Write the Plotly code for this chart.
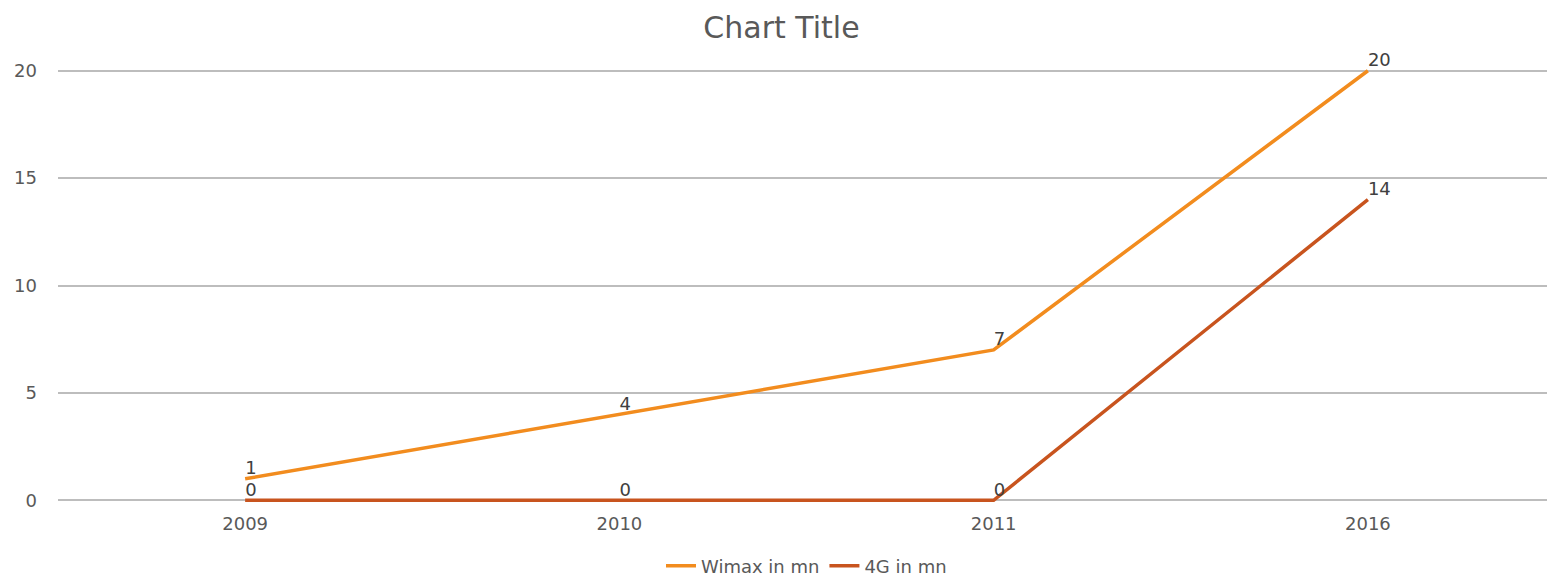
import plotly.graph_objects as go

categories = ["2009", "2010", "2011", "2016"]
wimax = [1, 4, 7, 20]
g4 = [0, 0, 0, 14]
y_ticks = [0, 5, 10, 15, 20]

FONT = "DejaVu Sans, sans-serif"
GRAY = "#595959"

fig = go.Figure()
fig.add_trace(go.Scatter(
    x=categories, y=wimax, name="Wimax in mn", mode="lines+text",
    line=dict(color="#F28C1E", width=3.5),
    text=[str(v) for v in wimax], textposition="top right",
    textfont=dict(family=FONT, size=18, color="#404040"),
    cliponaxis=False,
))
fig.add_trace(go.Scatter(
    x=categories, y=g4, name="4G in mn", mode="lines+text",
    line=dict(color="#C8541E", width=3.5),
    text=[str(v) for v in g4], textposition="top right",
    textfont=dict(family=FONT, size=18, color="#404040"),
    cliponaxis=False,
))

# page body has an 8px margin, so the figure is sized/offset to compensate
fig.update_layout(
    width=1547, height=570,
    margin=dict(l=50, r=0, t=52, b=67, autoexpand=False),
    paper_bgcolor="white", plot_bgcolor="white",
    title=dict(text="Chart Title", x=0.5, xanchor="center", y=0.966, yanchor="middle",
               font=dict(family=FONT, size=30, color=GRAY)),
    font=dict(family=FONT, size=18, color=GRAY),
    showlegend=True,
    legend=dict(orientation="h", x=0.5, xanchor="center", y=-0.122, yanchor="middle",
                font=dict(family=FONT, size=18, color=GRAY)),
    xaxis=dict(type="category", range=[-0.5, 3.5], showgrid=False, zeroline=False,
               showline=False, ticks="", automargin=False,
               tickfont=dict(family=FONT, size=18, color=GRAY)),
    yaxis=dict(range=[-0.5, 20.5], tickvals=y_ticks, showgrid=True, gridcolor="#BDBDBD",
               gridwidth=2, zeroline=False, showline=False, ticks="", automargin=False,
               ticklabelstandoff=20,
               tickfont=dict(family=FONT, size=18, color=GRAY)),
)

fig.write_html("out.html")
